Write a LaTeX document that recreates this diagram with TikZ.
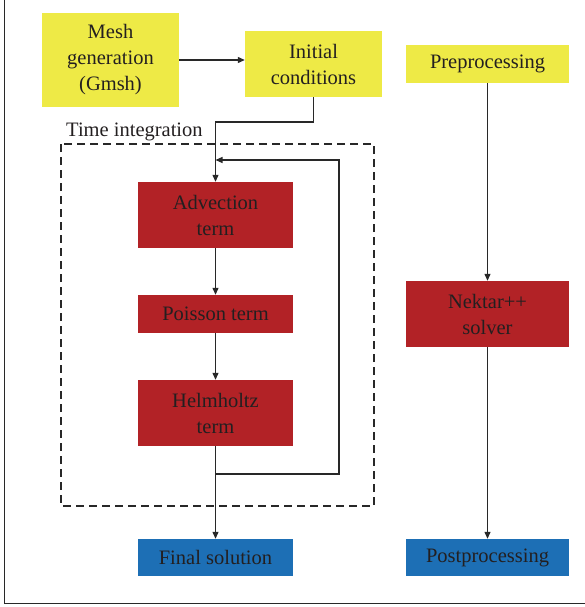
\documentclass[tikz,border=0pt]{standalone}
\usepackage{fontspec}
\setmainfont{Liberation Serif}
\usetikzlibrary{arrows.meta,calc}
\definecolor{ybox}{RGB}{238,234,70}
\definecolor{rbox}{RGB}{178,34,38}
\definecolor{bbox}{RGB}{29,111,181}
\definecolor{txt}{RGB}{35,31,32}
\definecolor{ln}{RGB}{40,40,40}
\tikzset{
  boxbase/.style={rectangle, inner sep=0pt, align=center, text=txt,
    font=\fontsize{20.5}{26}\selectfont},
  ybx/.style={boxbase, fill=ybox},
  rbx/.style={boxbase, fill=rbox},
  bbx/.style={boxbase, fill=bbox},
  conn/.style={draw=ln, line width=1.2pt, -{Triangle[length=7pt,width=6pt]}},
  plainconn/.style={draw=ln, line width=1.2pt},
}
\begin{document}
\begin{tikzpicture}[x=1pt,y=-1pt]
\useasboundingbox (0,0) rectangle (585,607);
% frame
\draw[ln, line width=1.4pt] (4.5,0) -- (4.5,603.5) -- (585,603.5);
% dashed time integration box
\draw[ln, line width=1.1pt, dash pattern=on 8pt off 5pt] (61,144) rectangle (374,506);
\node[boxbase, anchor=base west] (tlabel) at (66,136) {Time integration};
% nodes
\node[ybx, minimum width=137pt, minimum height=94pt] (mesh) at (110.5,60) {Mesh\\generation\\(Gmsh)};
\node[ybx, minimum width=137pt, minimum height=66pt] (init) at (313.5,64) {Initial\\conditions};
\node[ybx, minimum width=163pt, minimum height=38pt] (pre) at (487.5,64) {Preprocessing};
\node[rbx, minimum width=155pt, minimum height=66pt] (adv) at (215.5,215) {Advection\\term};
\node[rbx, minimum width=155pt, minimum height=38pt] (poi) at (215.5,314) {Poisson term};
\node[rbx, minimum width=155pt, minimum height=66pt] (helm) at (215.5,413) {Helmholtz\\term};
\node[bbx, minimum width=155pt, minimum height=37pt] (fin) at (215.5,557.5) {Final solution};
\node[rbx, minimum width=163pt, minimum height=66pt] (nek) at (487.5,314) {Nektar++\\solver};
\node[bbx, minimum width=163pt, minimum height=37pt] (post) at (487.5,557.5) {Postprocessing};
% coordinates for loop
\coordinate (lstart) at (helm.south |- 0,474);
\coordinate (lend) at (adv.north |- 0,160);
% connectors
\draw[conn] (mesh.east |- 0,60) -- (init.west |- 0,60);
\draw[conn] (init.south) |- (adv.north |- 0,122) -- (adv.north);
\draw[conn] (adv) -- (poi);
\draw[conn] (poi) -- (helm);
\draw[conn] (helm) -- (fin);
\draw[conn] (lstart) -- (339,474) -- (339,160) -- (lend);
\draw[conn] (pre) -- (nek);
\draw[conn] (nek) -- (post);
\end{tikzpicture}
\end{document}
